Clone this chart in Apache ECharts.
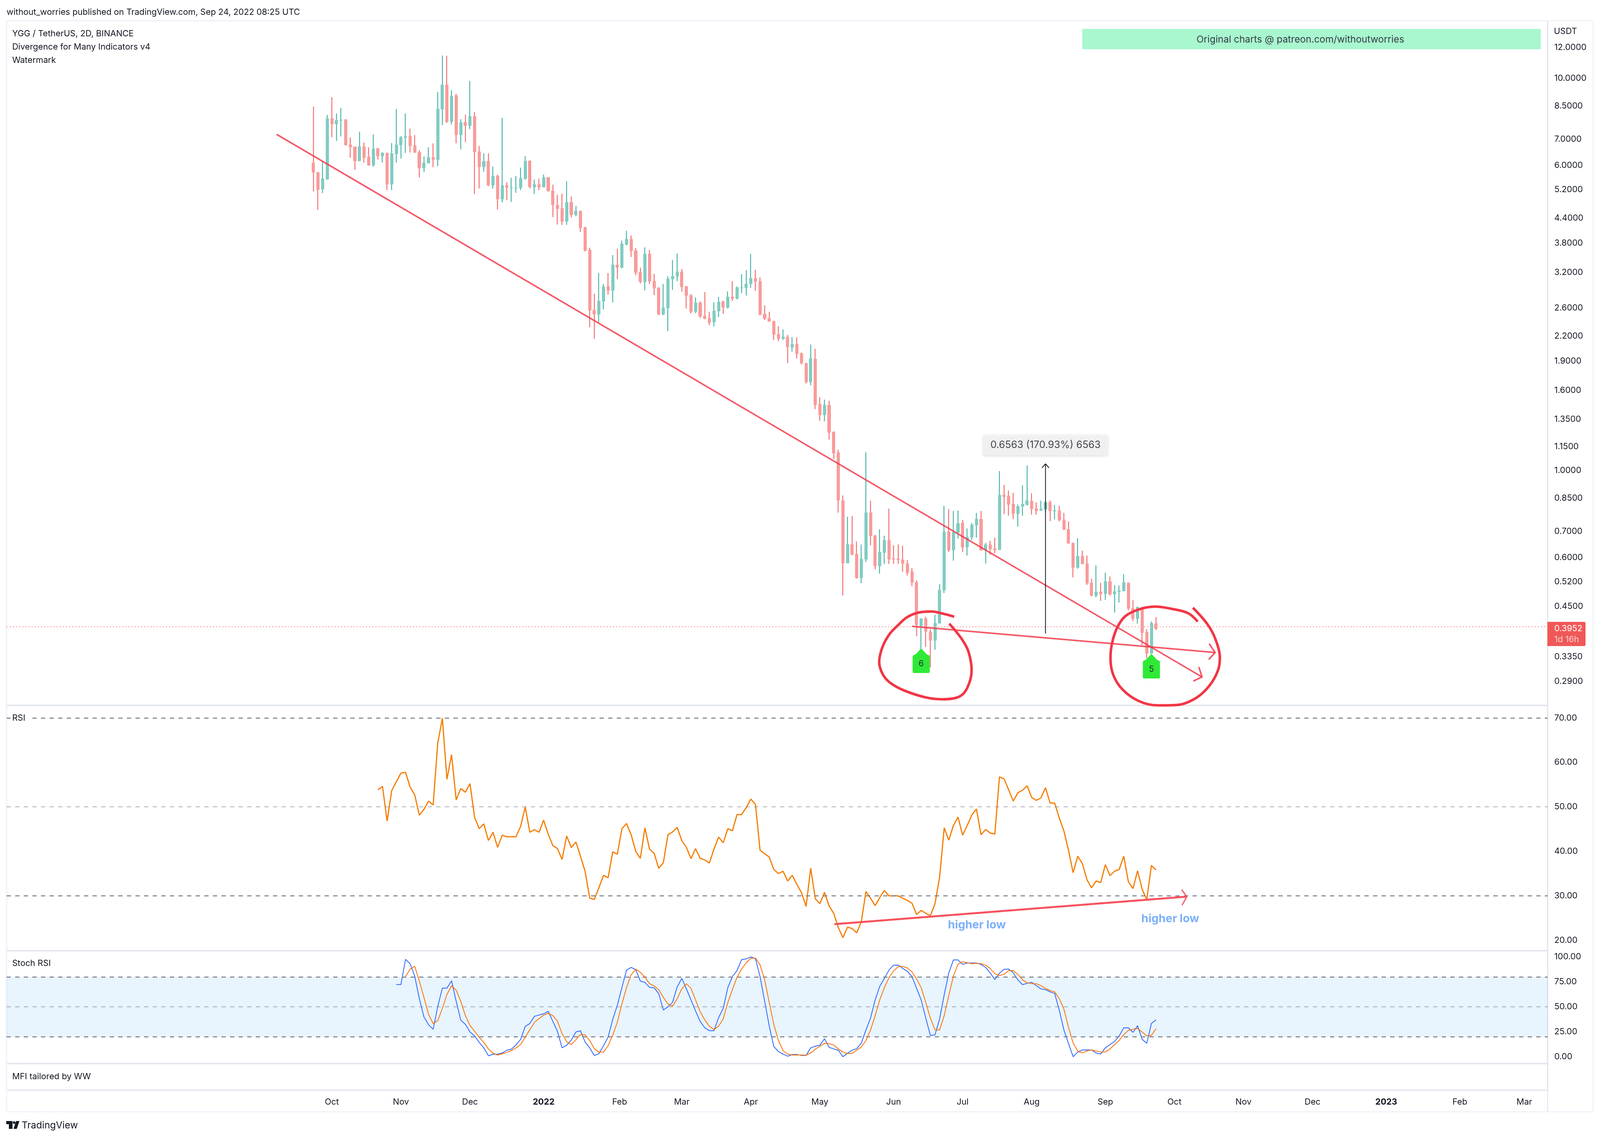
<!DOCTYPE html>
<html><head><meta charset="utf-8">
<style>html,body{margin:0;padding:0;background:#fff;overflow:hidden}#c{width:100vw;height:100vh}</style>
<script src="https://cdn.jsdelivr.net/npm/echarts@6/dist/echarts.min.js"></script>
</head><body><div id="c"></div>
<script>
// ---------- values ----------
// 2-day candles: open, high, low, close
const ohlc = [
[6.09,8.48,5.15,5.76],[5.76,5.77,4.62,5.20],[5.22,6.13,5.10,5.55],[5.53,8.07,5.52,7.90],[7.90,8.95,7.08,7.65],
[7.65,8.14,6.93,7.81],[7.81,8.41,7.11,7.83],[7.85,7.87,6.74,6.76],[6.77,7.07,6.28,6.68],[6.69,6.70,5.85,6.16],
[6.16,7.31,6.15,6.70],[6.70,6.86,6.10,6.28],[6.31,6.67,5.99,6.00],[6.01,7.19,5.95,6.61],[6.63,6.64,6.21,6.34],
[6.34,6.48,6.10,6.45],[6.45,6.46,5.19,5.37],[5.37,6.84,5.19,6.43],[6.42,8.35,6.10,6.77],[6.76,7.12,6.25,7.08],
[7.07,8.14,6.45,7.11],[7.12,7.45,6.47,6.73],[6.74,7.17,6.46,6.47],[6.48,6.56,5.59,5.91],[5.91,6.32,5.77,6.09],
[6.08,6.67,6.07,6.29],[6.29,6.83,5.94,6.21],[6.20,9.24,5.97,8.36],[8.35,11.43,7.60,9.63],[9.63,11.43,7.70,7.75],
[7.75,9.33,7.63,9.02],[9.04,9.13,6.83,7.18],[7.18,7.87,6.59,7.72],[7.72,8.08,6.88,7.58],[7.58,9.85,7.42,8.00],
[8.00,8.20,5.07,6.49],[6.50,6.72,5.24,5.95],[5.95,6.44,5.78,6.14],[6.15,6.44,5.31,5.34],[5.34,5.96,5.24,5.64],
[5.64,5.68,4.63,4.92],[4.92,7.93,4.83,5.33],[5.33,5.43,4.89,5.27],[5.25,5.58,4.84,5.26],[5.25,5.64,5.11,5.26],
[5.26,5.92,5.19,5.56],[5.55,6.33,5.52,6.15],[6.16,6.18,5.24,5.29],[5.28,5.52,5.07,5.36],[5.36,5.55,5.19,5.28],
[5.28,5.69,5.27,5.59],[5.59,5.60,5.14,5.17],[5.17,5.36,4.43,4.76],[4.75,5.05,4.24,4.65],[4.66,5.08,4.23,4.32],
[4.32,5.47,4.23,4.83],[4.83,5.00,4.42,4.49],[4.49,4.73,4.45,4.59],[4.59,4.60,4.06,4.16],[4.17,4.18,3.62,3.64],
[3.65,3.70,2.32,2.56],[2.565,2.824,2.168,2.503],[2.503,3.189,2.388,2.704],[2.70,2.99,2.574,2.942],[2.947,3.189,2.807,2.88],
[2.88,3.543,2.682,3.346],[3.346,3.674,3.079,3.295],[3.295,3.859,3.276,3.787],[3.77,4.088,3.754,3.891],[3.891,3.974,3.506,3.631],
[3.635,3.691,3.148,3.20],[3.204,3.291,3.001,3.029],[3.029,3.708,2.88,3.568],[3.568,3.652,2.99,3.037],[3.04,3.175,2.801,2.921],
[2.921,2.935,2.49,2.503],[2.503,2.99,2.49,2.601],[2.598,3.13,2.268,3.082],[3.079,3.441,2.889,3.13],[3.126,3.573,3.04,3.211],
[3.211,3.264,2.86,2.938],[2.947,2.954,2.59,2.794],[2.797,2.817,2.515,2.544],[2.544,2.765,2.52,2.678],[2.678,2.697,2.448,2.474],
[2.477,2.85,2.43,2.442],[2.445,2.541,2.349,2.385],[2.39,2.684,2.33,2.553],[2.55,2.772,2.462,2.691],[2.697,2.71,2.509,2.607],
[2.604,2.863,2.59,2.772],[2.772,3.04,2.707,2.745],[2.745,2.947,2.733,2.928],[2.921,3.167,2.834,2.928],[2.925,3.243,2.794,2.99],
[2.993,3.573,2.921,3.09],[3.09,3.25,2.873,3.037],[3.033,3.108,2.49,2.497],[2.506,2.64,2.42,2.442],[2.445,2.541,2.395,2.403],
[2.40,2.41,2.152,2.222],[2.225,2.333,2.138,2.172],[2.172,2.29,2.152,2.19],[2.19,2.219,1.88,2.066],[2.06,2.19,2.01,2.10],
[2.10,2.185,1.93,1.985],[1.988,2.0,1.865,1.88],[1.878,1.882,1.667,1.683],[1.683,2.095,1.65,1.93],[1.926,2.044,1.434,1.47],
[1.476,1.538,1.34,1.387],[1.387,1.517,1.336,1.468],[1.468,1.506,1.199,1.251],[1.253,1.259,1.071,1.107],[1.112,1.13,0.781,0.84],
[0.838,0.864,0.48,0.581],[0.581,0.762,0.58,0.648],[0.648,0.765,0.608,0.611],[0.612,0.659,0.53,0.532],[0.533,0.648,0.516,0.595],
[0.594,1.113,0.585,0.781],[0.781,0.838,0.645,0.682],[0.682,0.685,0.56,0.571],[0.571,0.708,0.546,0.62],[0.618,0.682,0.578,0.664],
[0.664,0.80,0.578,0.594],[0.596,0.645,0.578,0.594],[0.596,0.648,0.578,0.593],[0.592,0.643,0.552,0.579],[0.579,0.591,0.54,0.549],
[0.552,0.564,0.507,0.519],[0.519,0.524,0.378,0.404],[0.402,0.42,0.35,0.419],[0.419,0.424,0.355,0.389],[0.388,0.394,0.315,0.369],
[0.369,0.429,0.349,0.408],[0.408,0.513,0.407,0.496],[0.496,0.813,0.487,0.698],[0.698,0.798,0.62,0.626],[0.627,0.789,0.589,0.696],
[0.695,0.791,0.671,0.733],[0.735,0.748,0.62,0.637],[0.638,0.712,0.607,0.676],[0.676,0.735,0.665,0.727],[0.726,0.78,0.674,0.752],
[0.752,0.789,0.624,0.627],[0.627,0.654,0.579,0.647],[0.647,0.662,0.61,0.631],[0.632,0.674,0.615,0.627],[0.628,0.997,0.627,0.866],
[0.866,0.919,0.774,0.858],[0.861,0.889,0.767,0.819],[0.821,0.877,0.752,0.776],[0.776,0.819,0.72,0.81],[0.81,0.917,0.767,0.821],
[0.818,1.03,0.815,0.838],[0.836,0.875,0.772,0.798],[0.8,0.83,0.772,0.789],[0.791,0.838,0.789,0.797],[0.797,0.84,0.78,0.83],
[0.83,0.838,0.743,0.789],[0.788,0.817,0.751,0.791],[0.79,0.813,0.742,0.748],[0.748,0.78,0.705,0.708],[0.708,0.742,0.65,0.653],
[0.653,0.655,0.534,0.566],[0.566,0.672,0.562,0.605],[0.605,0.625,0.577,0.578],[0.579,0.607,0.511,0.516],[0.517,0.53,0.478,0.48],
[0.48,0.573,0.475,0.49],[0.49,0.517,0.465,0.485],[0.485,0.549,0.468,0.521],[0.521,0.537,0.48,0.484],[0.484,0.51,0.434,0.491],
[0.491,0.509,0.461,0.494],[0.493,0.544,0.492,0.518],[0.517,0.518,0.44,0.445],[0.445,0.467,0.413,0.419],[0.419,0.45,0.407,0.448],
[0.448,0.449,0.359,0.386],[0.387,0.394,0.332,0.342],[0.342,0.412,0.341,0.408],[0.407,0.423,0.392,0.3952]];
const lastPrice = 0.3952;

// RSI, first value belongs to candle 14
const rsiStart = 14;
const rsiValues = [53.84,54.6,46.81,53.65,55.66,57.59,57.77,54.46,52.67,48.12,49.47,51.29,50.45,64.39,69.93,56.2,61.74,51.58,54.13,53.29,
55.22,47.65,45.1,46.19,42.44,44.3,40.91,43.64,43.28,43.28,43.28,45.65,49.94,44.3,44.88,44.3,47.03,43.83,41.28,40.62,
38.18,43.46,40.84,42.12,38.91,35.53,29.52,29.19,31.81,34.62,34.07,39.89,39.35,45.1,46.26,43.75,40.0,38.44,45.28,40.48,
39.57,36.18,37.46,43.75,44.37,45.39,42.44,40.91,38.37,40.62,38.44,38.07,37.38,40.55,43.21,41.93,45.1,44.63,48.27,48.27,
49.83,51.76,50.56,40.26,39.46,38.73,35.89,35.02,35.53,33.34,34.62,32.54,30.72,27.63,36.25,29.34,28.25,30.79,27.74,26.06,
22.89,20.6,22.97,22.64,21.69,24.17,30.98,29.45,27.81,29.63,31.19,29.99,29.99,29.99,29.45,28.97,28.35,25.81,26.72,26.06,
25.55,28.25,34.18,45.28,42.52,45.83,47.72,43.64,45.83,48.19,49.54,43.75,44.92,44.12,43.9,56.75,56.28,53.84,51.29,53.18,
53.73,54.75,52.13,51.47,52.02,54.31,50.85,50.85,47.47,44.55,40.26,35.2,38.91,37.27,33.63,31.81,33.34,33.01,37.02,34.54,
35.53,35.93,38.91,33.16,31.63,35.64,31.45,29.16,36.84,35.82];

// Stoch RSI %K, first value belongs to candle 18
const stochKStart = 18;
const stochK = [72.4,72.4,97.6,93.1,80.7,58.2,39.9,32.0,27.5,50.3,68.8,68.8,76.1,55.6,36.6,32.4,24.8,20.9,14.4,8.9,
0.9,2.5,2.5,3.8,6.5,7.6,11.8,17.4,30.3,33.3,40.5,41.8,43.0,45.5,35.3,25.5,8.9,11.5,16.7,24.8,
26.0,14.8,8.9,1.2,3.0,11.1,19.6,37.3,51.6,69.3,86.9,89.5,87.3,75.8,74.4,69.5,69.0,63.1,46.8,50.1,
54.6,69.9,78.6,68.0,56.9,45.8,35.3,29.0,26.1,26.1,39.2,48.4,69.3,80.4,86.3,97.4,98.0,100,98.4,80.4,
55.6,30.7,10.1,5.2,2.6,0.5,2.2,2.2,1.3,1.3,8.9,10.5,11.5,18.0,9.4,7.8,6.5,0.0,3.5,6.5,
8.1,13.7,26.8,38.8,56.9,70.6,78.4,86.9,91.8,91.9,88.5,85.6,80.4,68.6,56.9,38.6,21.2,22.0,37.9,62.1,
84.1,97.0,97.0,92.5,93.9,93.9,93.9,92.5,89.5,83.9,77.4,83.7,87.6,87.8,84.1,77.1,72.3,73.5,74.6,71.2,
68.0,67.3,65.0,63.4,46.4,26.8,13.1,0,4.6,6.8,6.8,6.8,3.7,2.7,8.9,12.2,15.3,20.9,28.9,29.0,
24.4,31.1,17.4,13.5,33.3,37.0];

// Stoch RSI %D, first value belongs to candle 20
const stochDStart = 20;
const stochD = [80.4,87.8,90.6,75.8,59.5,42.5,33.1,36.2,48.4,62.4,71.1,66.7,55.6,41.2,31.4,25.5,19.6,14.4,7.8,3.5,
1.7,2.9,4.3,6.1,8.9,12.2,19.6,27.1,34.4,38.3,41.6,43.5,41.2,35.6,23.1,15.0,12.2,17.0,22.2,22.0,
16.3,8.1,4.6,4.6,11.1,21.6,34.6,52.9,69.3,82.0,87.8,84.6,79.7,73.2,71.0,67.1,59.5,52.9,50.6,58.2,
68.0,73.2,68.6,56.9,45.1,36.9,30.5,27.2,30.7,37.9,54.3,67.3,79.7,88.0,94.1,98.7,99.0,92.2,77.1,54.3,
32.0,16.3,6.1,2.6,1.7,1.7,1.7,1.6,3.9,7.5,10.5,13.5,13.1,11.8,7.8,4.6,3.3,3.3,6.5,9.8,
16.3,26.8,41.2,56.9,69.3,79.1,86.0,90.2,90.6,88.9,85.0,78.0,69.3,54.3,38.6,27.1,26.8,41.2,61.4,81.0,
92.8,95.2,94.3,93.2,93.6,93.2,91.9,88.2,83.3,81.4,82.7,86.3,86.4,82.4,77.1,74.0,73.3,73.2,71.2,68.6,
66.3,65.0,58.2,47.7,29.4,13.7,5.6,3.7,5.9,6.8,5.8,4.6,4.8,7.8,12.2,16.3,22.2,26.4,27.5,28.4,
24.8,20.9,21.3,28.1];

// axis tick values and labels
const priceTicks = [12,10,8.5,7,6,5.2,4.4,3.8,3.2,2.6,2.2,1.9,1.6,1.35,1.15,1,0.85,0.7,0.6,0.52,0.45,0.335,0.29];
const rsiTicks = [70,60,50,40,30,20];
const stochTicks = [100,75,50,25,0];
const timeTickDates = ['2021-10-01','2021-10-31','2021-11-30','2022-01-01','2022-02-03','2022-03-02','2022-04-01','2022-05-01','2022-06-02','2022-07-02','2022-08-01','2022-09-02','2022-10-02','2022-11-01','2022-12-01','2023-01-02','2023-02-03','2023-03-03'];
const timeTickLabels = ['Oct','Nov','Dec','2022','Feb','Mar','Apr','May','Jun','Jul','Aug','Sep','Oct','Nov','Dec','2023','Feb','Mar'];

// hand-drawn annotations: days relative to the last candle, and price / RSI
const trendDays = [-382,20], trendPrices = [7.198,0.2976];
const trendHeadDays = [16.2,20,18.6], trendHeadPrices = [0.2905,0.2976,0.3157];
const supportDays = [-106,25.7], supportPrices = [0.4007,0.3435];
const supportHeadDays = [23.1,25.7,22.9], supportHeadPrices = [0.3619,0.3435,0.3297];
const measureDay = -48, measureFrom = 0.3839, measureTo = 1.0402, measureHeadPrice = 1.016, measureHeadHalf = 1.5;
const measureLabel = '0.6563 (170.93%) 6563', measureLabelPrice = 1.162;
const circle1Days = [-87.67,-92.76,-97.5,-103.43,-108.17,-112.32,-115.87,-118.83,-120.25,-118.6,-115.28,-109.35,-99.87,-92.76,-85.65,-82.1,-80.09,-81.51,-84.47,-89.8];
const circle1Prices = [0.424,0.432,0.437,0.434,0.4225,0.402,0.382,0.3546,0.325,0.3016,0.287,0.2748,0.2638,0.2611,0.2648,0.2783,0.3092,0.3459,0.3726,0.407];
const circle2Days = [18.14,13.88,6.77,-0.34,-7.45,-13.38,-16.93,-19.06,-19.77,-18.59,-14.56,-7.45,0.84,9.14,17.43,23.36,26.91,27.74,25.73,22.17,16.01];
const circle2Prices = [0.412,0.433,0.444,0.4497,0.4424,0.425,0.397,0.3635,0.333,0.3016,0.2766,0.2583,0.2519,0.2525,0.2631,0.2835,0.3092,0.333,0.3726,0.407,0.4469];
const divTags = [{i:132,price:0.3275,text:'6'},{i:182,price:0.317,text:'5'}];
const rsiTrendDays = [-139.7,13.4], rsiTrendVals = [23.63,29.82];
const rsiHeadDays = [11.15,13.4,11.3], rsiHeadVals = [31.39,29.82,27.89];
const rsiNotes = [{day:-77.8,val:23.45,text:'higher low'},{day:6.2,val:24.85,text:'higher low'}];

// ---------- layout follows the actual window, the reference proportions are kept ----------
const W = window.innerWidth, H = window.innerHeight;
const sx = W/4864, sy = H/2916;
const X = v=>v*sx, Y = v=>v*sy;
const fs = n=>Math.round(n*(sx+(1-sx)*0.4)*10)/10;

const DAY = 86400000, lastT = Date.UTC(2022,8,24);
const dayT = d => lastT + d*DAY;
const candleT = i => lastT + (i-(ohlc.length-1))*2*DAY;
const xMin = dayT(-499.3), xMax = dayT(170.15);
const font = 'Inter';
const pair = (xs,ys)=>xs.map((d,k)=>[dayT(d),ys[k]]);

const RED='#F23645', LINE='rgba(242,54,69,0.82)', TXT='#131722', BORDER='#E0E3EB';

const grids = [
 {left:X(20),width:X(4685),top:Y(53),height:Y(1753)},
 {left:X(20),width:X(4685),top:Y(1806),height:Y(628)},
 {left:X(20),width:X(4685),top:Y(2434),height:Y(289)},
 {left:X(20),width:X(4685),top:Y(2723),height:Y(68)}
].map(g=>Object.assign(g,{show:true,borderColor:BORDER,borderWidth:3,backgroundColor:'transparent'}));

const tickMs = timeTickDates.map(s=>new Date(s+'T00:00:00Z').getTime());
const xAxes = grids.map((g,k)=>({
  type:'value',gridIndex:k,min:xMin,max:xMax,scale:true,
  axisLine:{show:false},axisTick:{show:false},splitLine:{show:false},
  axisLabel: k<3 ? {show:false} : {
    show:true,margin:Y(19),fontFamily:font,fontSize:fs(24),color:TXT,hideOverlap:false,
    customValues:tickMs,
    formatter:(v)=>{const s=timeTickLabels[tickMs.indexOf(+v)];
      return /^\d+$/.test(s)?'{b|'+s+'}':s;},
    rich:{b:{fontFamily:font,fontSize:fs(24),fontWeight:700,color:TXT}}
  }
}));
const yLabel = (vals,dec)=>({show:true,margin:X(20),fontFamily:font,fontSize:fs(24),color:TXT,hideOverlap:false,align:'left',customValues:vals,formatter:v=>(+v).toFixed(dec)});
const noLines = {axisLine:{show:false},axisTick:{show:false},splitLine:{show:false},minorSplitLine:{show:false}};
const yAxes = [
 Object.assign({type:'log',logBase:10,gridIndex:0,position:'right',min:0.2518,max:14.03,axisLabel:yLabel(priceTicks,4)},noLines),
 Object.assign({type:'value',gridIndex:1,position:'right',min:17.66,max:72.81,axisLabel:yLabel(rsiTicks,2)},noLines),
 Object.assign({type:'value',gridIndex:2,position:'right',min:-6.91,max:106.24,axisLabel:yLabel(stochTicks,2)},noLines),
 Object.assign({type:'value',gridIndex:3,position:'right',min:0,max:1,axisLabel:{show:false}},noLines)
];

const path = (name,data,style,extra)=>Object.assign({name,type:'line',data,showSymbol:false,symbol:'none',silent:true,
   xAxisIndex:0,yAxisIndex:0,z:6,lineStyle:style,clip:true,animation:false},extra||{});
const dashMark=(vals)=>({silent:true,symbol:'none',label:{show:false},animation:false,
   data:vals.map(v=>({yAxis:v[0],lineStyle:{color:v[1],width:2.5,type:[11,11]}}))});

const wickColors={color:'#26A69A',color0:'#EF5350',borderColor:'#26A69A',borderColor0:'#EF5350',borderWidth:2};
const bodyColors={color:'#80CCC2',color0:'#F99B9B',borderColor:'#80CCC2',borderColor0:'#F99B9B',borderWidth:1};

const series = [
 {name:'wicks',type:'candlestick',xAxisIndex:0,yAxisIndex:0,barWidth:1,z:2,silent:true,itemStyle:wickColors,
  encode:{x:0,y:[1,2,3,4]},
  data:ohlc.map((r,i)=>[candleT(i),r[0],r[3],r[2],r[1]]),
  markLine:{silent:true,symbol:'none',label:{show:false},animation:false,
    data:[{yAxis:lastPrice,lineStyle:{color:'#F7A5A5',width:2.5,type:[3,5]}}]}},
 {name:'bodies',type:'candlestick',xAxisIndex:0,yAxisIndex:0,barWidth:X(9),z:3,silent:true,itemStyle:bodyColors,
  encode:{x:0,y:[1,2,3,4]},
  data:ohlc.map((r,i)=>[candleT(i),r[0],r[3],Math.min(r[0],r[3]),Math.max(r[0],r[3])])},
 path('trend',pair(trendDays,trendPrices),{color:LINE,width:4}),
 path('trendHead',pair(trendHeadDays,trendHeadPrices),{color:LINE,width:4}),
 path('support',pair(supportDays,supportPrices),{color:LINE,width:4}),
 path('supportHead',pair(supportHeadDays,supportHeadPrices),{color:LINE,width:4}),
 path('measure',[[dayT(measureDay),measureFrom],[dayT(measureDay),measureTo]],{color:'#131722',width:2}),
 path('measureHead',[[dayT(measureDay-measureHeadHalf),measureHeadPrice],[dayT(measureDay),measureTo],[dayT(measureDay+measureHeadHalf),measureHeadPrice]],{color:'#131722',width:2}),
 path('circle1',pair(circle1Days,circle1Prices),{color:RED,width:6.5},{smooth:0.35,z:7}),
 path('circle2',pair(circle2Days,circle2Prices),{color:RED,width:6.5},{smooth:0.35,z:7}),
 {name:'tags',type:'scatter',xAxisIndex:0,yAxisIndex:0,z:8,silent:true,
  symbol:'path://M26 0 L44 16 Q52 16 52 22 L52 59 Q52 63 48 63 L4 63 Q0 63 0 59 L0 22 Q0 16 8 16 Z',
  symbolSize:[X(52),Y(63)],itemStyle:{color:'#2EEA36',opacity:1},
  label:{show:true,position:'inside',offset:[0,Y(8)],fontFamily:font,fontSize:fs(24),color:'#2A2E39',formatter:p=>p.data.text},
  data:divTags.map(t=>({value:[candleT(t.i),t.price],text:t.text}))},
 {name:'measureLabel',type:'scatter',xAxisIndex:0,yAxisIndex:0,z:9,silent:true,symbolSize:1,itemStyle:{color:'transparent'},
  label:{show:true,position:'inside',fontFamily:font,fontSize:fs(28),color:'#131722',backgroundColor:'#F5F5F5',borderRadius:6,
    padding:[Y(14),X(22)],shadowColor:'rgba(0,0,0,0.18)',shadowBlur:6,shadowOffsetY:2,formatter:()=>measureLabel},
  data:[[dayT(measureDay),measureLabelPrice]]},

 path('RSI',rsiValues.map((v,k)=>[candleT(k+rsiStart),v]),{color:'#F57C00',width:3},{xAxisIndex:1,yAxisIndex:1,z:4,
   markLine:dashMark([[70,'#787B86'],[50,'rgba(120,123,134,0.5)'],[30,'#787B86']])}),
 path('rsiTrend',pair(rsiTrendDays,rsiTrendVals),{color:'#F7525F',width:5},{xAxisIndex:1,yAxisIndex:1}),
 path('rsiHead',pair(rsiHeadDays,rsiHeadVals),{color:'#F7525F',width:3},{xAxisIndex:1,yAxisIndex:1}),
 {name:'notes',type:'scatter',xAxisIndex:1,yAxisIndex:1,z:8,silent:true,symbolSize:1,itemStyle:{color:'transparent'},
  label:{show:true,position:'inside',fontFamily:font,fontSize:fs(32),fontWeight:700,color:'#5B9CF6',formatter:p=>p.data.text},
  data:rsiNotes.map(n=>({value:[dayT(n.day),n.val],text:n.text}))},

 path('%K',stochK.map((v,k)=>[candleT(k+stochKStart),v]),{color:'#2962FF',width:2},{xAxisIndex:2,yAxisIndex:2,z:4,
   markArea:{silent:true,animation:false,itemStyle:{color:'rgba(33,150,243,0.1)'},data:[[{yAxis:20},{yAxis:80}]]},
   markLine:dashMark([[80,'#787B86'],[50,'rgba(120,123,134,0.5)'],[20,'#787B86']])}),
 path('%D',stochD.map((v,k)=>[candleT(k+stochDStart),v]),{color:'#FF6D00',width:2},{xAxisIndex:2,yAxisIndex:2,z:5})
];

const label=(x,y,text,extra)=>({type:'text',z:50,style:Object.assign({x:X(x),y:Y(y),text,font:fs(24)+'px '+font,fill:TXT,textVerticalAlign:'middle'},extra||{})});
const graphic = [
 {type:'rect',z:0,shape:{x:X(20),y:Y(53),width:X(4823),height:Y(2793)},style:{fill:'transparent',stroke:'#F0F3FA',lineWidth:3}},
 {type:'line',z:1,shape:{x1:X(4705),y1:Y(2791),x2:X(4705),y2:Y(2846)},style:{stroke:BORDER,lineWidth:2}},
 {type:'rect',z:40,shape:{x:X(3290),y:Y(74),width:X(1394),height:Y(52)},style:{fill:'#A8F7CF'}},
 label(3953,102,'Original charts @ patreon.com/withoutworries',{fill:'#363A45',textAlign:'center',font:fs(27)+'px '+font}),
 label(4724,80,'USDT'),
 label(20,31,'without_worries published on TradingView.com, Sep 24, 2022 08:25 UTC'),
 label(37,86,'YGG / TetherUS, 2D, BINANCE'),
 label(37,120,'Divergence for Many Indicators v4'),
 label(37,154,'Watermark'),
 {type:'rect',z:45,shape:{x:X(32),y:Y(1822),width:X(62),height:Y(32)},style:{fill:'#fff'}},
 label(37,1838,'RSI'),
 label(37,2466,'Stoch RSI'),
 label(37,2756,'MFI tailored by WW'),
 {type:'rect',z:48,shape:{x:X(4704),y:Y(1592),width:X(116),height:Y(62),r:[0,4,4,0]},style:{fill:'#F05858'}},
 label(4725,1609,'0.3952',{fill:'#fff'}),
 label(4725,1637,'1d 16h',{fill:'rgba(255,255,255,0.72)'}),
 {type:'polygon',z:50,shape:{points:[[19,2870],[38,2870],[38,2890],[27,2890],[27,2878],[19,2878]].map(p=>[X(p[0]),Y(p[1])])},style:{fill:TXT}},
 {type:'circle',z:50,shape:{cx:X(43),cy:Y(2874),r:X(4)},style:{fill:TXT}},
 {type:'polygon',z:50,shape:{points:[[49,2870],[59,2870],[51,2890],[41,2890]].map(p=>[X(p[0]),Y(p[1])])},style:{fill:TXT}},
 label(66,2882,'TradingView',{font:fs(27)+'px '+font})
];

const chart = echarts.init(document.getElementById('c'),null,{renderer:'canvas',width:W,height:H,devicePixelRatio:1});
chart.setOption({animation:false,backgroundColor:'#fff',grid:grids,xAxis:xAxes,yAxis:yAxes,series,graphic});
</script></body></html>
